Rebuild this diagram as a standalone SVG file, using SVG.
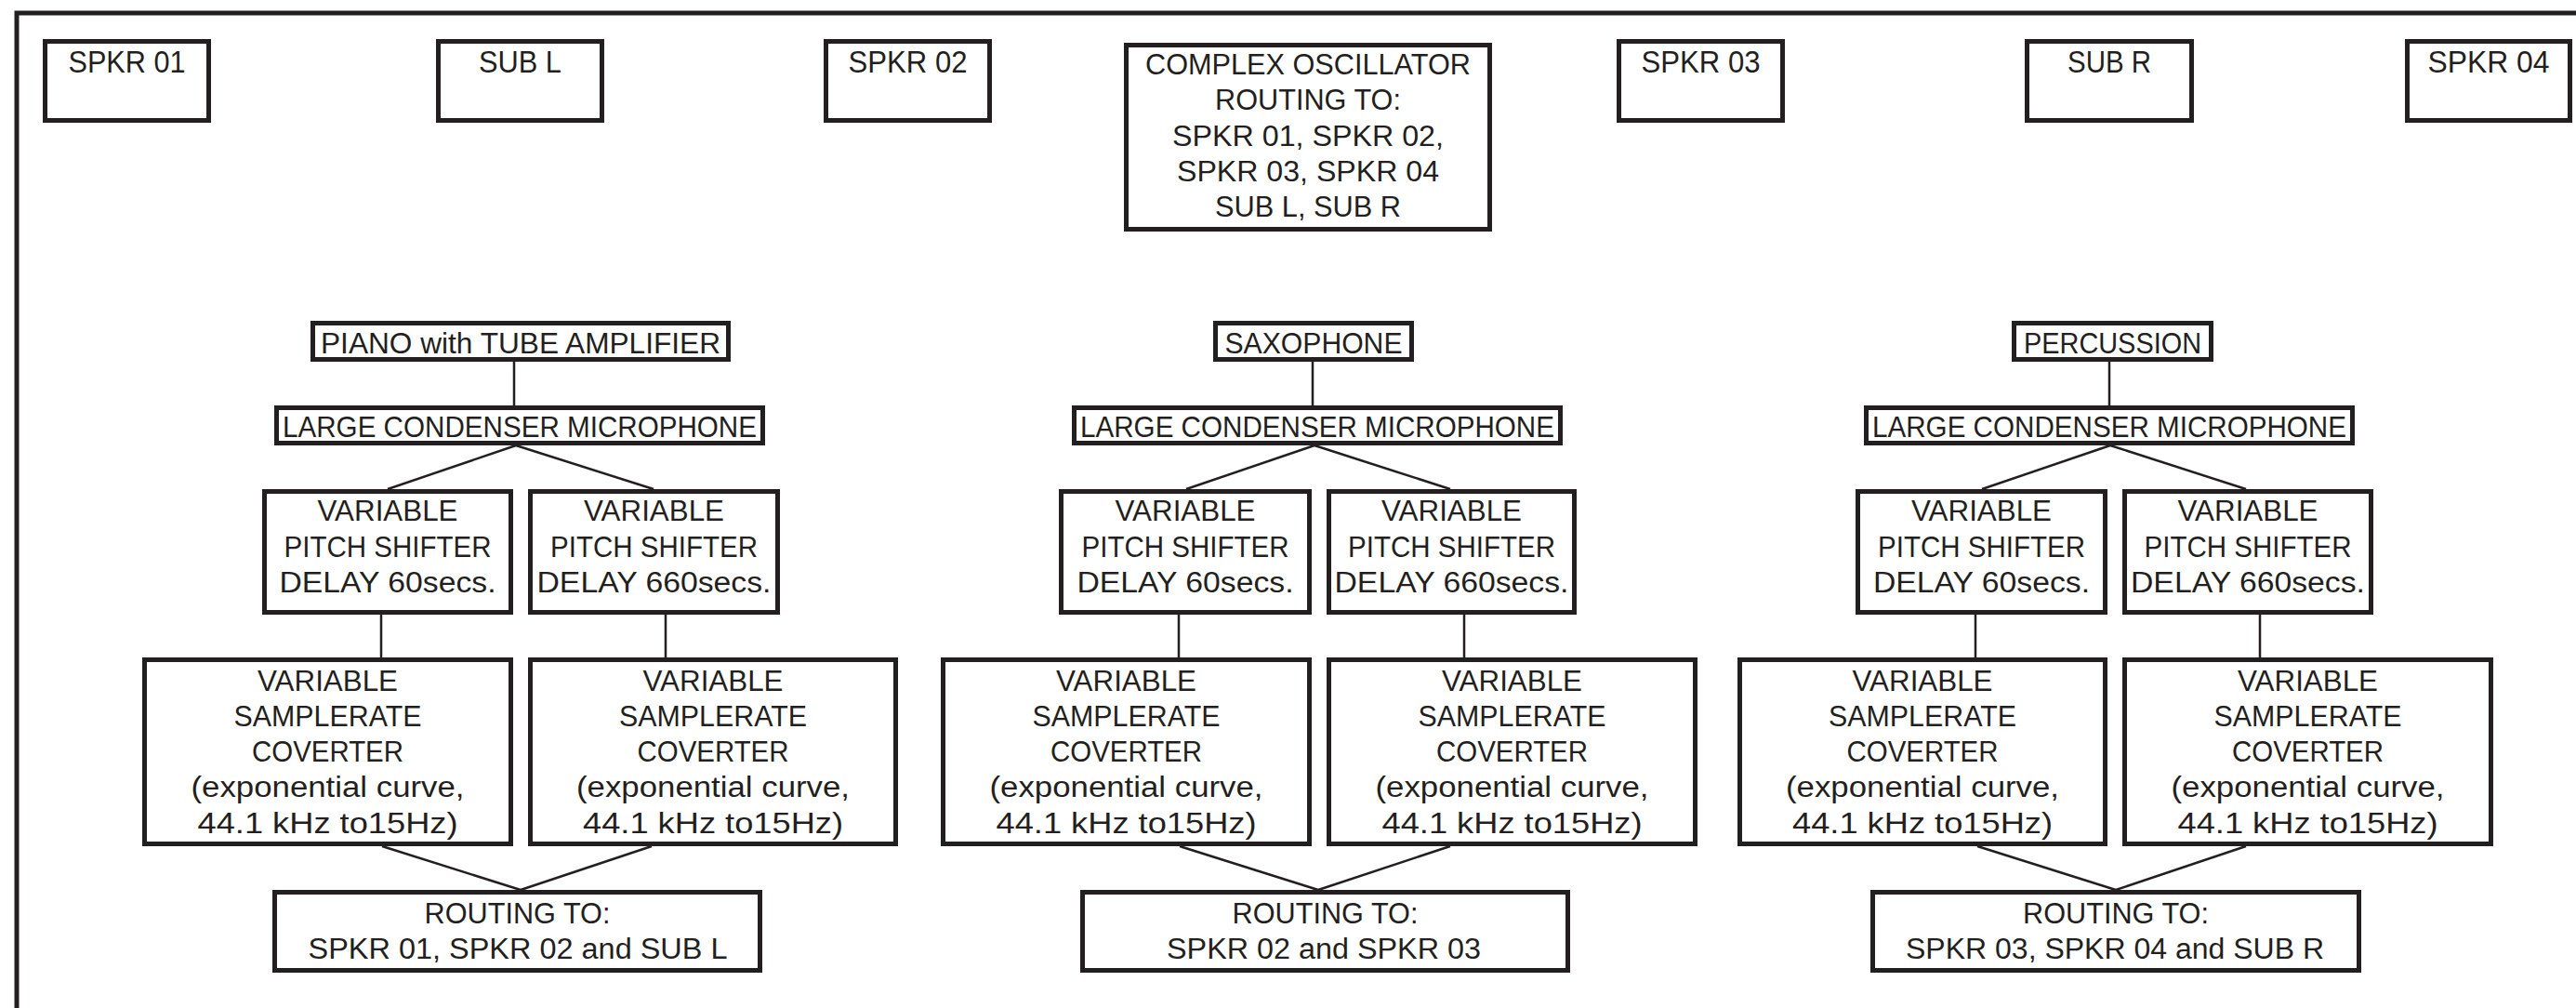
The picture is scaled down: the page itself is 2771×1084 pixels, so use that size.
<svg xmlns="http://www.w3.org/2000/svg" width="2771" height="1084" viewBox="0 0 2771 1084">
<style>
.box{fill:#fff;stroke:#231f20;stroke-width:5}
.frame{fill:none;stroke:#231f20;stroke-width:5}
.con path{fill:none;stroke:#231f20;stroke-width:2.5}
text{font-family:"Liberation Sans",Arial,sans-serif;font-size:31px;fill:#231f20;text-anchor:middle}
.big{font-size:34px}
</style>
<rect width="2771" height="1084" fill="#fff"/>
<path class="frame" d="M18,1095 V14 H2790"/>
<g class="con">
<path d="M553,389 V436 M555,479 L417,526 M555,479 L703,526 M410,661 V707 M716,661 V707 M411,910 L560,957 M701,910 L560,957"/>
<path d="M1412,389 V436 M1414,479 L1276,526 M1414,479 L1560,526 M1268,661 V707 M1575,661 V707 M1269,910 L1418,957 M1560,910 L1418,957"/>
<path d="M2269,389 V436 M2270,479 L2132,526 M2270,479 L2416,526 M2125,661 V707 M2431,661 V707 M2127,910 L2276,957 M2416,910 L2276,957"/>
</g>
<g id="spkr01"><rect class="box" x="48.5" y="44.5" width="176" height="85"/><text class="big" x="136.5" y="78" textLength="126" lengthAdjust="spacingAndGlyphs">SPKR 01</text></g>
<g id="subl"><rect class="box" x="471.5" y="44.5" width="176" height="85"/><text class="big" x="559.5" y="78" textLength="89" lengthAdjust="spacingAndGlyphs">SUB L</text></g>
<g id="spkr02"><rect class="box" x="888.5" y="44.5" width="176" height="85"/><text class="big" x="976.5" y="78" textLength="128" lengthAdjust="spacingAndGlyphs">SPKR 02</text></g>
<g id="complex"><rect class="box" x="1211.5" y="48.5" width="391" height="198"/>
<text x="1407" y="80" textLength="350" lengthAdjust="spacingAndGlyphs">COMPLEX OSCILLATOR</text>
<text x="1407" y="118" textLength="200" lengthAdjust="spacingAndGlyphs">ROUTING TO:</text>
<text x="1407" y="157" textLength="292" lengthAdjust="spacingAndGlyphs">SPKR 01, SPKR 02,</text>
<text x="1407" y="195" textLength="282" lengthAdjust="spacingAndGlyphs">SPKR 03, SPKR 04</text>
<text x="1407" y="233" textLength="200" lengthAdjust="spacingAndGlyphs">SUB L, SUB R</text></g>
<g id="spkr03"><rect class="box" x="1741.5" y="44.5" width="176" height="85"/><text class="big" x="1829.5" y="78" textLength="128" lengthAdjust="spacingAndGlyphs">SPKR 03</text></g>
<g id="subr"><rect class="box" x="2180.5" y="44.5" width="177" height="85"/><text class="big" x="2269" y="78" textLength="90" lengthAdjust="spacingAndGlyphs">SUB R</text></g>
<g id="spkr04"><rect class="box" x="2589.5" y="44.5" width="175" height="85"/><text class="big" x="2677" y="78" textLength="131" lengthAdjust="spacingAndGlyphs">SPKR 04</text></g>

<g id="piano"><rect class="box" x="336.5" y="347.5" width="447" height="39"/><text x="560" y="380" textLength="430" lengthAdjust="spacingAndGlyphs">PIANO with TUBE AMPLIFIER</text></g>
<g id="mic1"><rect class="box" x="297.5" y="438.5" width="523" height="38"/><text x="559" y="470" textLength="510" lengthAdjust="spacingAndGlyphs">LARGE CONDENSER MICROPHONE</text></g>
<g id="vps1l"><rect class="box" x="284.5" y="528.5" width="265" height="130"/>
<text x="417" y="560" textLength="151" lengthAdjust="spacingAndGlyphs">VARIABLE</text><text x="417" y="599" textLength="223" lengthAdjust="spacingAndGlyphs">PITCH SHIFTER</text><text x="417" y="637" textLength="233" lengthAdjust="spacingAndGlyphs">DELAY 60secs.</text></g>
<g id="vps1r"><rect class="box" x="570.5" y="528.5" width="266" height="130"/>
<text x="703.5" y="560" textLength="151" lengthAdjust="spacingAndGlyphs">VARIABLE</text><text x="703.5" y="599" textLength="223" lengthAdjust="spacingAndGlyphs">PITCH SHIFTER</text><text x="703.5" y="637" textLength="252" lengthAdjust="spacingAndGlyphs">DELAY 660secs.</text></g>
<g id="vsc1l"><rect class="box" x="155.5" y="709.5" width="394" height="198"/>
<text x="352.5" y="743" textLength="151" lengthAdjust="spacingAndGlyphs">VARIABLE</text><text x="352.5" y="781" textLength="202" lengthAdjust="spacingAndGlyphs">SAMPLERATE</text><text x="352.5" y="819" textLength="163" lengthAdjust="spacingAndGlyphs">COVERTER</text><text x="352.5" y="857" textLength="294" lengthAdjust="spacingAndGlyphs">(exponential curve,</text><text x="352.5" y="896" textLength="280" lengthAdjust="spacingAndGlyphs">44.1 kHz to15Hz)</text></g>
<g id="vsc1r"><rect class="box" x="570.5" y="709.5" width="393" height="198"/>
<text x="767" y="743" textLength="151" lengthAdjust="spacingAndGlyphs">VARIABLE</text><text x="767" y="781" textLength="202" lengthAdjust="spacingAndGlyphs">SAMPLERATE</text><text x="767" y="819" textLength="163" lengthAdjust="spacingAndGlyphs">COVERTER</text><text x="767" y="857" textLength="294" lengthAdjust="spacingAndGlyphs">(exponential curve,</text><text x="767" y="896" textLength="280" lengthAdjust="spacingAndGlyphs">44.1 kHz to15Hz)</text></g>
<g id="route1"><rect class="box" x="295.5" y="959.5" width="522" height="84"/>
<text x="556.5" y="993" textLength="200" lengthAdjust="spacingAndGlyphs">ROUTING TO:</text><text x="557" y="1031" textLength="451" lengthAdjust="spacingAndGlyphs">SPKR 01, SPKR 02 and SUB L</text></g>

<g id="sax"><rect class="box" x="1307.5" y="347.5" width="211" height="39"/><text x="1413" y="380" textLength="191" lengthAdjust="spacingAndGlyphs">SAXOPHONE</text></g>
<g id="mic2"><rect class="box" x="1155.5" y="438.5" width="523" height="38"/><text x="1417" y="470" textLength="510" lengthAdjust="spacingAndGlyphs">LARGE CONDENSER MICROPHONE</text></g>
<g id="vps2l"><rect class="box" x="1141.5" y="528.5" width="267" height="130"/>
<text x="1275" y="560" textLength="151" lengthAdjust="spacingAndGlyphs">VARIABLE</text><text x="1275" y="599" textLength="223" lengthAdjust="spacingAndGlyphs">PITCH SHIFTER</text><text x="1275" y="637" textLength="233" lengthAdjust="spacingAndGlyphs">DELAY 60secs.</text></g>
<g id="vps2r"><rect class="box" x="1429.5" y="528.5" width="264" height="130"/>
<text x="1561.5" y="560" textLength="151" lengthAdjust="spacingAndGlyphs">VARIABLE</text><text x="1561.5" y="599" textLength="223" lengthAdjust="spacingAndGlyphs">PITCH SHIFTER</text><text x="1561.5" y="637" textLength="252" lengthAdjust="spacingAndGlyphs">DELAY 660secs.</text></g>
<g id="vsc2l"><rect class="box" x="1014.5" y="709.5" width="394" height="198"/>
<text x="1211.5" y="743" textLength="151" lengthAdjust="spacingAndGlyphs">VARIABLE</text><text x="1211.5" y="781" textLength="202" lengthAdjust="spacingAndGlyphs">SAMPLERATE</text><text x="1211.5" y="819" textLength="163" lengthAdjust="spacingAndGlyphs">COVERTER</text><text x="1211.5" y="857" textLength="294" lengthAdjust="spacingAndGlyphs">(exponential curve,</text><text x="1211.5" y="896" textLength="280" lengthAdjust="spacingAndGlyphs">44.1 kHz to15Hz)</text></g>
<g id="vsc2r"><rect class="box" x="1429.5" y="709.5" width="394" height="198"/>
<text x="1626.5" y="743" textLength="151" lengthAdjust="spacingAndGlyphs">VARIABLE</text><text x="1626.5" y="781" textLength="202" lengthAdjust="spacingAndGlyphs">SAMPLERATE</text><text x="1626.5" y="819" textLength="163" lengthAdjust="spacingAndGlyphs">COVERTER</text><text x="1626.5" y="857" textLength="294" lengthAdjust="spacingAndGlyphs">(exponential curve,</text><text x="1626.5" y="896" textLength="280" lengthAdjust="spacingAndGlyphs">44.1 kHz to15Hz)</text></g>
<g id="route2"><rect class="box" x="1164.5" y="959.5" width="522" height="84"/>
<text x="1425.5" y="993" textLength="200" lengthAdjust="spacingAndGlyphs">ROUTING TO:</text><text x="1424" y="1031" textLength="338" lengthAdjust="spacingAndGlyphs">SPKR 02 and SPKR 03</text></g>

<g id="perc"><rect class="box" x="2166.5" y="347.5" width="212" height="39"/><text x="2272.5" y="380" textLength="191" lengthAdjust="spacingAndGlyphs">PERCUSSION</text></g>
<g id="mic3"><rect class="box" x="2007.5" y="438.5" width="523" height="38"/><text x="2269" y="470" textLength="510" lengthAdjust="spacingAndGlyphs">LARGE CONDENSER MICROPHONE</text></g>
<g id="vps3l"><rect class="box" x="1998.5" y="528.5" width="266" height="130"/>
<text x="2131.5" y="560" textLength="151" lengthAdjust="spacingAndGlyphs">VARIABLE</text><text x="2131.5" y="599" textLength="223" lengthAdjust="spacingAndGlyphs">PITCH SHIFTER</text><text x="2131.5" y="637" textLength="233" lengthAdjust="spacingAndGlyphs">DELAY 60secs.</text></g>
<g id="vps3r"><rect class="box" x="2285.5" y="528.5" width="265" height="130"/>
<text x="2418" y="560" textLength="151" lengthAdjust="spacingAndGlyphs">VARIABLE</text><text x="2418" y="599" textLength="223" lengthAdjust="spacingAndGlyphs">PITCH SHIFTER</text><text x="2418" y="637" textLength="252" lengthAdjust="spacingAndGlyphs">DELAY 660secs.</text></g>
<g id="vsc3l"><rect class="box" x="1871.5" y="709.5" width="393" height="198"/>
<text x="2068" y="743" textLength="151" lengthAdjust="spacingAndGlyphs">VARIABLE</text><text x="2068" y="781" textLength="202" lengthAdjust="spacingAndGlyphs">SAMPLERATE</text><text x="2068" y="819" textLength="163" lengthAdjust="spacingAndGlyphs">COVERTER</text><text x="2068" y="857" textLength="294" lengthAdjust="spacingAndGlyphs">(exponential curve,</text><text x="2068" y="896" textLength="280" lengthAdjust="spacingAndGlyphs">44.1 kHz to15Hz)</text></g>
<g id="vsc3r"><rect class="box" x="2285.5" y="709.5" width="394" height="198"/>
<text x="2482.5" y="743" textLength="151" lengthAdjust="spacingAndGlyphs">VARIABLE</text><text x="2482.5" y="781" textLength="202" lengthAdjust="spacingAndGlyphs">SAMPLERATE</text><text x="2482.5" y="819" textLength="163" lengthAdjust="spacingAndGlyphs">COVERTER</text><text x="2482.5" y="857" textLength="294" lengthAdjust="spacingAndGlyphs">(exponential curve,</text><text x="2482.5" y="896" textLength="280" lengthAdjust="spacingAndGlyphs">44.1 kHz to15Hz)</text></g>
<g id="route3"><rect class="box" x="2014.5" y="959.5" width="523" height="84"/>
<text x="2276" y="993" textLength="200" lengthAdjust="spacingAndGlyphs">ROUTING TO:</text><text x="2275" y="1031" textLength="450" lengthAdjust="spacingAndGlyphs">SPKR 03, SPKR 04 and SUB R</text></g>
</svg>
